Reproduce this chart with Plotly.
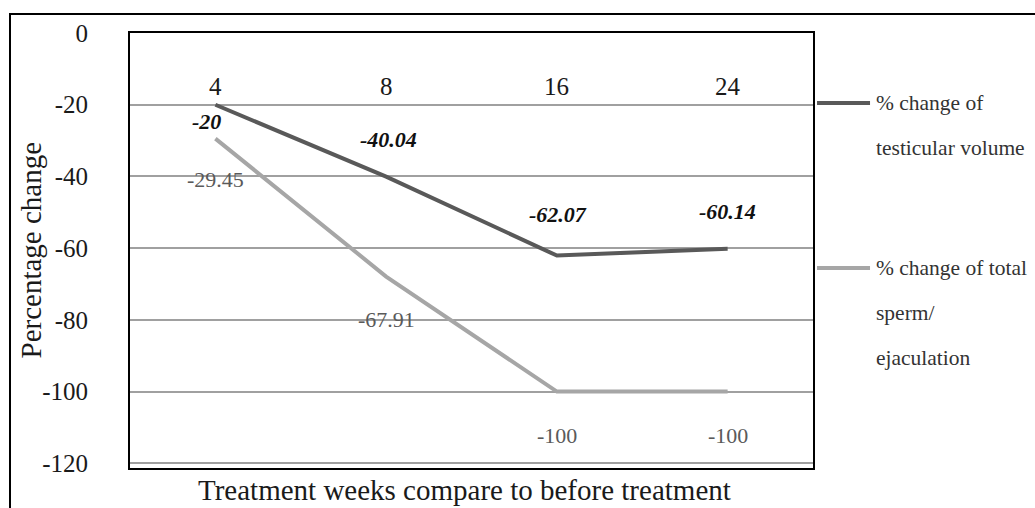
import plotly.graph_objects as go

# Treatment weeks (categories) and percentage change of each measure
weeks = ["4", "8", "16", "24"]
testicular_volume = [-20, -40.04, -62.07, -60.14]
total_sperm = [-29.45, -67.91, -100, -100]
y_ticks = [0, -20, -40, -60, -80, -100, -120]

# vertical pixel offsets of the value labels (positive = above the point)
vol_label_shift = [-17, 37, 41, 37]
vol_label_xshift = [-9, 2, 1, 0]
sperm_label_shift = [-41, -43, -44, -44]

SERIF = "Liberation Serif"
DARK = "#595959"
LIGHT = "#a6a6a6"

fig = go.Figure()
fig.add_trace(go.Scatter(x=weeks, y=testicular_volume, mode="lines",
                         line=dict(color=DARK, width=4), showlegend=False,
                         name="% change of testicular volume"))
fig.add_trace(go.Scatter(x=weeks, y=total_sperm, mode="lines",
                         line=dict(color=LIGHT, width=4), showlegend=False,
                         name="% change of total sperm/ ejaculation"))

ann = []
# category labels sit inside the plot just below the zero line
# (annotations on a category axis are placed by category index)
for i, w in enumerate(weeks):
    ann.append(dict(x=i, y=-15, xref="x", yref="y", text=w, showarrow=False,
                    font=dict(family=SERIF, size=25, color="#1a1a1a")))
# value labels
for i, (v, dy, dx) in enumerate(zip(testicular_volume, vol_label_shift, vol_label_xshift)):
    ann.append(dict(x=i, y=v, xref="x", yref="y", text=f"<b><i>{v:g}</i></b>",
                    showarrow=False, yshift=dy, xshift=dx,
                    font=dict(family=SERIF, size=22, color="#111111")))
for i, (v, dy) in enumerate(zip(total_sperm, sperm_label_shift)):
    ann.append(dict(x=i, y=v, xref="x", yref="y", text=f"{v:g}",
                    showarrow=False, yshift=dy,
                    font=dict(family=SERIF, size=22, color="#5a5a5a")))

# axis titles
ann.append(dict(x=(464 - 130) / 683, y=-0.05, xref="paper", yref="paper",
                text="Treatment weeks compare to before treatment", showarrow=False,
                xanchor="center", yanchor="middle",
                font=dict(family=SERIF, size=29, color="#1a1a1a")))
ann.append(dict(x=(30 - 130) / 683, y=0.5, xref="paper", yref="paper",
                text="Percentage change", showarrow=False, textangle=-90,
                xanchor="center", yanchor="middle",
                font=dict(family=SERIF, size=29, color="#1a1a1a")))

# legend drawn at the right of the plot
legend_rows = [
    (0.839, "% change of"),
    (0.7356, "testicular volume"),
    (0.4598, "% change of total"),
    (0.3563, "sperm/"),
    (0.2529, "ejaculation"),
]
for yy, txt in legend_rows:
    ann.append(dict(x=1.0893, y=yy, xref="paper", yref="paper", text=txt,
                    showarrow=False, xanchor="left", yanchor="middle",
                    font=dict(family=SERIF, size=21.5, color="#333333")))

shapes = [
    dict(type="line", xref="paper", yref="paper", x0=1.0059, x1=1.0835,
         y0=0.839, y1=0.839, line=dict(color=DARK, width=4)),
    dict(type="line", xref="paper", yref="paper", x0=1.0059, x1=1.0835,
         y0=0.4598, y1=0.4598, line=dict(color=LIGHT, width=4)),
    # outer frame of the chart
    dict(type="rect", xref="paper", yref="paper", x0=(10 - 130) / 683, x1=1.6,
         y0=-0.3, y1=(468 - 14) / 435, line=dict(color="black", width=2),
         layer="below"),
]

fig.update_layout(
    width=1035, height=508,
    margin=dict(l=130, r=222, t=33, b=40),
    paper_bgcolor="white", plot_bgcolor="white",
    annotations=ann, shapes=shapes,
    xaxis=dict(type="category", categoryorder="array", categoryarray=weeks,
               range=[-0.5, 3.5], showticklabels=False, showgrid=False,
               zeroline=False, showline=True, linecolor="black", linewidth=2,
               mirror=True, ticks=""),
    yaxis=dict(range=[-121.3, 0], tickvals=y_ticks, ticktext=[str(t) for t in y_ticks],
               showgrid=True, gridcolor="#a0a0a0", gridwidth=1.5, zeroline=False,
               showline=True, linecolor="black", linewidth=2, mirror=True,
               ticks="", ticklabelstandoff=35,
               tickfont=dict(family=SERIF, size=25, color="#1a1a1a")),
)

fig.write_html("out.html")
